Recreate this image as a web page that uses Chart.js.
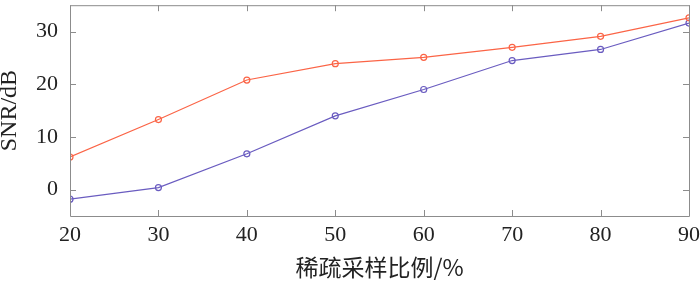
<!DOCTYPE html>
<html>
<head>
<meta charset="utf-8">
<script src="https://cdn.jsdelivr.net/npm/chart.js@4"></script>
<style>
  html, body { margin: 0; padding: 0; background: #fff; }
  #wrap { width: 700px; height: 283px; }
</style>
</head>
<body>
<div id="wrap"><canvas id="snrChart"></canvas></div>
<script>
// sampling ratio (%) and SNR values
const ratios = [20, 30, 40, 50, 60, 70, 80, 90];
const snrOrange = [6.2, 13.3, 20.8, 23.9, 25.1, 27.0, 29.1, 32.6];
const snrBlue = [-1.8, 0.4, 6.8, 14.0, 19.0, 24.5, 26.6, 31.6];
const yTicks = [0, 10, 20, 30];
const xTicks = [20, 30, 40, 50, 60, 70, 80, 90];

const axisColor = '#8c8c8c';

// MATLAB-style box with inward ticks on all four sides
const boxTicks = {
  id: 'boxTicks',
  afterDatasetsDraw(chart) {
    const { ctx, chartArea: a, scales } = chart;
    const len = 6;
    ctx.save();
    ctx.strokeStyle = axisColor;
    ctx.lineWidth = 1;
    ctx.beginPath();
    ctx.rect(a.left + 0.5, a.top + 0.5, a.right - a.left, a.bottom - a.top);
    xTicks.forEach(v => {
      const x = Math.round(scales.x.getPixelForValue(v)) + 0.5;
      ctx.moveTo(x, a.bottom); ctx.lineTo(x, a.bottom - len);
      ctx.moveTo(x, a.top); ctx.lineTo(x, a.top + len);
    });
    yTicks.forEach(v => {
      const y = Math.round(scales.y.getPixelForValue(v)) + 0.5;
      ctx.moveTo(a.left, y); ctx.lineTo(a.left + len, y);
      ctx.moveTo(a.right, y); ctx.lineTo(a.right - len, y);
    });
    ctx.stroke();
    ctx.restore();
  }
};

const mkSet = (vals, color) => ({
  data: ratios.map((r, i) => ({ x: r, y: vals[i] })),
  borderColor: color,
  backgroundColor: 'rgba(0,0,0,0)',
  borderWidth: 1.2,
  pointRadius: 3,
  pointBorderWidth: 1.2,
  pointBackgroundColor: 'rgba(0,0,0,0)',
  pointBorderColor: color,
  tension: 0
});

const config = {
  type: 'line',
  data: {
    datasets: [
      mkSet(snrOrange, '#fb6446'),
      mkSet(snrBlue, '#6a5cc0')
    ]
  },
  options: {
    responsive: true,
    maintainAspectRatio: false,
    animation: false,
    layout: { padding: { top: 5, right: 11, left: 0, bottom: 0 } },
    plugins: { legend: { display: false }, tooltip: { enabled: false } },
    scales: {
      x: {
        type: 'linear',
        min: 20,
        max: 90,
        afterBuildTicks: s => { s.ticks = xTicks.map(v => ({ value: v })); },
        afterFit: s => { s.height = 67; s.paddingLeft = 0; s.paddingRight = 0; },
        grid: { display: false, drawTicks: false, tickLength: 0 },
        border: { display: false },
        ticks: {
          padding: 6,
          color: '#222',
          font: { family: 'Liberation Serif', size: 22 }
        },
        title: {
          display: true,
          text: '稀疏采样比例/%',
          color: '#222',
          padding: { top: 0, bottom: 2 },
          font: { family: 'Noto Sans CJK SC', size: 23, lineHeight: 1.2 }
        }
      },
      y: {
        min: -5,
        max: 35,
        afterBuildTicks: s => { s.ticks = yTicks.map(v => ({ value: v })); },
        afterFit: s => { s.width = 70; s.paddingTop = 0; s.paddingBottom = 0; },
        grid: { display: false, drawTicks: false, tickLength: 0 },
        border: { display: false },
        ticks: {
          padding: 12,
          color: '#222',
          font: { family: 'Liberation Serif', size: 22 }
        },
        title: {
          display: true,
          text: 'SNR/dB',
          color: '#222',
          padding: { top: -2, bottom: 0 },
          font: { family: 'Liberation Serif', size: 24, lineHeight: 1.0 }
        }
      }
    }
  },
  plugins: [boxTicks]
};

window.addEventListener('DOMContentLoaded', () => {
  new Chart(document.getElementById('snrChart'), config);
});
</script>
</body>
</html>
